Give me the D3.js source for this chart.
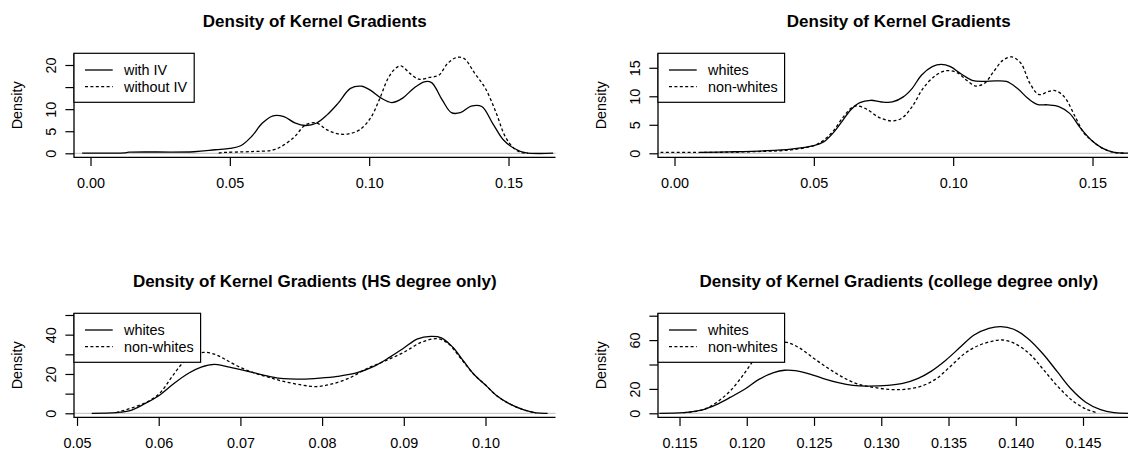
<!DOCTYPE html>
<html>
<head>
<meta charset="utf-8">
<script src="https://cdn.jsdelivr.net/npm/d3@7"></script>
<style>
body { margin: 0; background: #fff; }
svg text { font-family: "Liberation Sans", Arial, sans-serif; fill: #000; }
</style>
</head>
<body>
<script>
// density curves, [gradient, density]
var withIV = [[-0.003,0.05],[0.012,0.1],[0.0138,0.25],[0.0371,0.35],[0.0448,0.8],[0.05,1.1],[0.0539,1.7],[0.0578,3.8],[0.0616,6.8],[0.0655,8.5],[0.0694,8.3],[0.0733,6.9],[0.0771,6.3],[0.081,6.8],[0.0849,8.7],[0.0888,11.3],[0.0933,14.7],[0.0972,15.2],[0.1004,14.3],[0.1043,12.5],[0.1081,11.5],[0.112,12.5],[0.1159,14.7],[0.1198,16.2],[0.1224,16.0],[0.1262,12.1],[0.1295,9.2],[0.1327,9.2],[0.1366,10.7],[0.1404,10.6],[0.1443,6.8],[0.1482,3.0],[0.1521,1.1],[0.156,0.15],[0.166,0.02]];
var withoutIV = [[0.046,0.05],[0.047,0.15],[0.0578,0.4],[0.0655,0.75],[0.0694,1.9],[0.0733,3.8],[0.0771,6.4],[0.081,6.9],[0.0849,5.3],[0.0888,4.4],[0.0926,4.4],[0.0965,5.3],[0.1004,7.9],[0.1036,12.1],[0.1068,17.0],[0.1094,19.2],[0.1114,19.8],[0.1146,18.1],[0.1178,16.8],[0.1217,17.2],[0.125,17.7],[0.1282,20.4],[0.1314,21.7],[0.134,21.5],[0.1379,18.1],[0.1417,14.7],[0.1456,9.1],[0.1488,3.8],[0.152,1.1],[0.1547,0.15],[0.157,0.02]];

var whitesAll = [[0.0094,0.15],[0.0197,0.25],[0.0327,0.45],[0.0418,0.75],[0.05,1.35],[0.0535,2.0],[0.0568,3.5],[0.06,5.5],[0.0632,7.6],[0.0665,8.9],[0.0704,9.3],[0.0743,9.0],[0.0782,9.0],[0.0821,9.9],[0.0853,11.4],[0.0886,13.7],[0.0925,15.2],[0.0957,15.6],[0.099,15.2],[0.1029,13.9],[0.1068,12.8],[0.1107,12.6],[0.1152,12.7],[0.1191,12.6],[0.123,11.4],[0.1269,9.6],[0.1301,8.6],[0.134,8.5],[0.1379,8.2],[0.1418,7.0],[0.1457,4.4],[0.1496,2.3],[0.1535,0.9],[0.1574,0.2],[0.166,0.02]];
var nonWhitesAll = [[-0.005,0.15],[0.0094,0.15],[0.0197,0.2],[0.0327,0.35],[0.0418,0.6],[0.05,1.35],[0.0535,2.3],[0.0568,3.8],[0.0606,6.4],[0.0639,8.1],[0.0658,8.3],[0.0691,7.7],[0.073,6.4],[0.0775,5.7],[0.0814,6.1],[0.0853,8.2],[0.0892,11.4],[0.0938,13.7],[0.0977,14.5],[0.1016,14.1],[0.1048,12.8],[0.1081,11.8],[0.1113,12.3],[0.1145,14.3],[0.1178,16.3],[0.121,16.9],[0.1243,15.8],[0.1275,12.3],[0.1308,10.3],[0.134,10.8],[0.1366,11.0],[0.1399,9.9],[0.1438,6.4],[0.147,3.5],[0.1496,2.3],[0.1535,0.9],[0.1574,0.2],[0.162,0.02]];

var whitesHS = [[0.0518,0],[0.0548,0.35],[0.0565,1.4],[0.0583,4.9],[0.0601,9.2],[0.0619,15.3],[0.0637,20.5],[0.0652,23.5],[0.0668,24.9],[0.0681,24.0],[0.0699,22.3],[0.0717,20.5],[0.0735,18.8],[0.0753,17.6],[0.0775,17.4],[0.0797,17.9],[0.0819,18.8],[0.0842,20.5],[0.0864,24.0],[0.0882,28.3],[0.09,33.2],[0.0917,37.9],[0.0933,39.1],[0.0946,38.4],[0.096,33.6],[0.0973,26.6],[0.0986,19.7],[0.1,14.4],[0.1013,9.2],[0.1029,4.9],[0.1047,1.7],[0.1062,0.2],[0.1076,0]];
var nonWhitesHS = [[0.0548,0.35],[0.0583,5.2],[0.0601,10.1],[0.0615,17.9],[0.0628,24.9],[0.0641,29.2],[0.0655,31.0],[0.0668,30.1],[0.0681,27.5],[0.0699,23.5],[0.0717,20.5],[0.0735,18.3],[0.0753,16.2],[0.0775,14.4],[0.0793,13.6],[0.0811,14.8],[0.0833,17.9],[0.0855,22.8],[0.0877,26.6],[0.09,31.0],[0.0922,36.2],[0.0942,37.9],[0.0955,35.3],[0.0969,28.3],[0.0986,19.7],[0.1,14.4],[0.1013,9.2],[0.1029,4.9],[0.1047,1.7],[0.1062,0.2]];

var whitesCol = [[0.1135,0],[0.1153,0.55],[0.1167,2.8],[0.1177,6.9],[0.1188,13.2],[0.1199,20.1],[0.1209,27.8],[0.122,33.3],[0.1228,35.3],[0.1236,35.0],[0.1247,32.2],[0.1257,28.4],[0.1268,25.1],[0.1279,22.9],[0.1289,22.3],[0.1305,22.9],[0.1316,24.5],[0.1327,28.4],[0.1337,34.4],[0.1348,43.5],[0.1359,54.5],[0.1369,64.2],[0.138,69.7],[0.1389,71.1],[0.1398,69.1],[0.1409,61.4],[0.142,49.0],[0.1431,33.9],[0.1441,20.1],[0.1452,9.1],[0.1463,3.0],[0.1473,0.55],[0.1485,0]];
var nonWhitesCol = [[0.1153,0.55],[0.1167,2.8],[0.1177,8.5],[0.1188,18.7],[0.1199,33.9],[0.1207,46.3],[0.1215,54.5],[0.1223,58.1],[0.123,58.1],[0.1239,53.7],[0.125,44.9],[0.1261,36.6],[0.1271,29.8],[0.1282,24.2],[0.1293,21.5],[0.1306,19.6],[0.1317,19.6],[0.133,22.3],[0.1341,28.4],[0.1351,38.0],[0.1362,49.0],[0.1373,55.9],[0.1383,59.2],[0.139,60.1],[0.1399,57.3],[0.141,49.0],[0.142,36.6],[0.1431,22.3],[0.1442,10.5],[0.1452,3.6],[0.146,0.55]];

// titles, legends and ticks
var titles = ["Density of Kernel Gradients", "Density of Kernel Gradients",
              "Density of Kernel Gradients (HS degree only)", "Density of Kernel Gradients (college degree only)"];
var legendIV = ["with IV", "without IV"];
var legendRace = ["whites", "non-whites"];

var xTicksAll = [0, 0.05, 0.10, 0.15];
var xTicksHS = [0.05, 0.06, 0.07, 0.08, 0.09, 0.10];
var xTicksCol = [0.115, 0.120, 0.125, 0.130, 0.135, 0.140, 0.145];

var yTicks1 = [0, 5, 10, 15, 20],  yLabels1 = [0, 5, 10, 20];
var yTicks2 = [0, 5, 10, 15],      yLabels2 = [0, 5, 10, 15];
var yTicks3 = [0, 10, 20, 30, 40, 50], yLabels3 = [0, 20, 40];
var yTicks4 = [0, 20, 40, 60, 80], yLabels4 = [0, 20, 60];

var width = 1128, height = 450;
var plotW = 481.5, plotH = 104; // same plot region in every panel

var panels = [
    {left: 74,  top: 53.3,  title: titles[0], xDom: [-0.00592, 0.16686], yDom: [-0.906, 22.65],
     xTicks: xTicksAll, fmt: d3.format(".2f"), yTicks: yTicks1, yLabels: yLabels1,
     series: [withIV, withoutIV], legend: legendIV},
    {left: 658, top: 53.3,  title: titles[1], xDom: [-0.00592, 0.16686], yDom: [-0.702, 17.54],
     xTicks: xTicksAll, fmt: d3.format(".2f"), yTicks: yTicks2, yLabels: yLabels2,
     series: [whitesAll, nonWhitesAll], legend: legendRace},
    {left: 74,  top: 313.3, title: titles[2], xDom: [0.04963, 0.10857], yDom: [-2.035, 50.86],
     xTicks: xTicksHS, fmt: d3.format(".2f"), yTicks: yTicks3, yLabels: yLabels3,
     series: [whitesHS, nonWhitesHS], legend: legendRace},
    {left: 658, top: 313.3, title: titles[3], xDom: [0.11340, 0.14920], yDom: [-3.28, 81.97],
     xTicks: xTicksCol, fmt: d3.format(".3f"), yTicks: yTicks4, yLabels: yLabels4,
     series: [whitesCol, nonWhitesCol], legend: legendRace}
];

var dashes = [null, "3,2.4"];

var svg = d3.select("body").append("svg")
    .attr("width", width)
    .attr("height", height);

panels.forEach(function(p, i){

    var x = d3.scaleLinear().domain(p.xDom).range([0, plotW]);
    var y = d3.scaleLinear().domain(p.yDom).range([plotH, 0]);

    var g = svg.append("g")
        .attr("transform", "translate(" + p.left + "," + p.top + ")");

    g.append("clipPath").attr("id", "clip" + i)
        .append("rect").attr("width", plotW).attr("height", plotH);

    // zero line of plot.density
    g.append("line")
        .attr("x1", 0).attr("x2", plotW)
        .attr("y1", y(0)).attr("y2", y(0))
        .attr("stroke", "#bebebe").attr("stroke-width", 1);

    var line = d3.line()
        .x(function(d){ return x(d[0]); })
        .y(function(d){ return y(d[1]); })
        .curve(d3.curveCatmullRom.alpha(0.5));

    g.selectAll(".curve")
        .data(p.series)
        .enter()
        .append("path")
        .attr("class", "curve")
        .attr("clip-path", "url(#clip" + i + ")")
        .attr("d", line)
        .attr("fill", "none")
        .attr("stroke", "#000")
        .attr("stroke-width", 1.3)
        .attr("stroke-dasharray", function(d, j){ return dashes[j]; });

    // bottom axis
    var xAxis = g.append("g")
        .attr("transform", "translate(0," + plotH + ")")
        .call(d3.axisBottom(x).tickValues(p.xTicks).tickFormat(p.fmt)
            .tickSize(8.6).tickPadding(12));
    xAxis.select(".domain").remove();

    // left axis, labels parallel to axis
    var yAxis = g.append("g")
        .call(d3.axisLeft(y).tickValues(p.yTicks)
            .tickFormat(function(d){ return p.yLabels.indexOf(d) >= 0 ? d : ""; })
            .tickSize(8.6));
    yAxis.select(".domain").remove();
    yAxis.selectAll("text")
        .attr("x", null).attr("dy", null)
        .attr("text-anchor", "middle")
        .attr("transform", "translate(-18.5,0) rotate(-90)");

    svg.selectAll(".tick line").attr("stroke-width", 1.2);
    g.selectAll(".tick text").style("font-size", "14.4px");

    // bty = "l"
    g.append("path")
        .attr("d", "M0,0V" + plotH + "H" + plotW)
        .attr("fill", "none")
        .attr("stroke", "#000")
        .attr("stroke-width", 1.3);

    g.append("text")
        .attr("x", plotW / 2).attr("y", -26.3)
        .attr("text-anchor", "middle")
        .style("font-size", "17px")
        .style("font-weight", "bold")
        .text(p.title);

    g.append("text")
        .attr("transform", "translate(-52," + (plotH / 2) + ") rotate(-90)")
        .attr("text-anchor", "middle")
        .style("font-size", "14.4px")
        .text("Density");

    // legend, top left
    var leg = g.append("g");
    var box = leg.append("rect")
        .attr("height", 49)
        .attr("fill", "#fff")
        .attr("stroke", "#000")
        .attr("stroke-width", 1.2);

    var items = leg.selectAll(".item")
        .data(p.legend)
        .enter()
        .append("g")
        .attr("transform", function(d, j){ return "translate(0," + (16.7 + j * 16.7) + ")"; });

    items.append("line")
        .attr("x1", 11).attr("x2", 38.7)
        .attr("stroke", "#000")
        .attr("stroke-width", 1.3)
        .attr("stroke-dasharray", function(d, j){ return dashes[j]; });

    items.append("text")
        .attr("x", 50).attr("y", 5)
        .style("font-size", "14.4px")
        .text(function(d){ return d; });

    var maxW = d3.max(items.selectAll("text").nodes(), function(n){ return n.getComputedTextLength(); });
    box.attr("width", 50 + maxW + 7);
});
</script>
</body>
</html>
